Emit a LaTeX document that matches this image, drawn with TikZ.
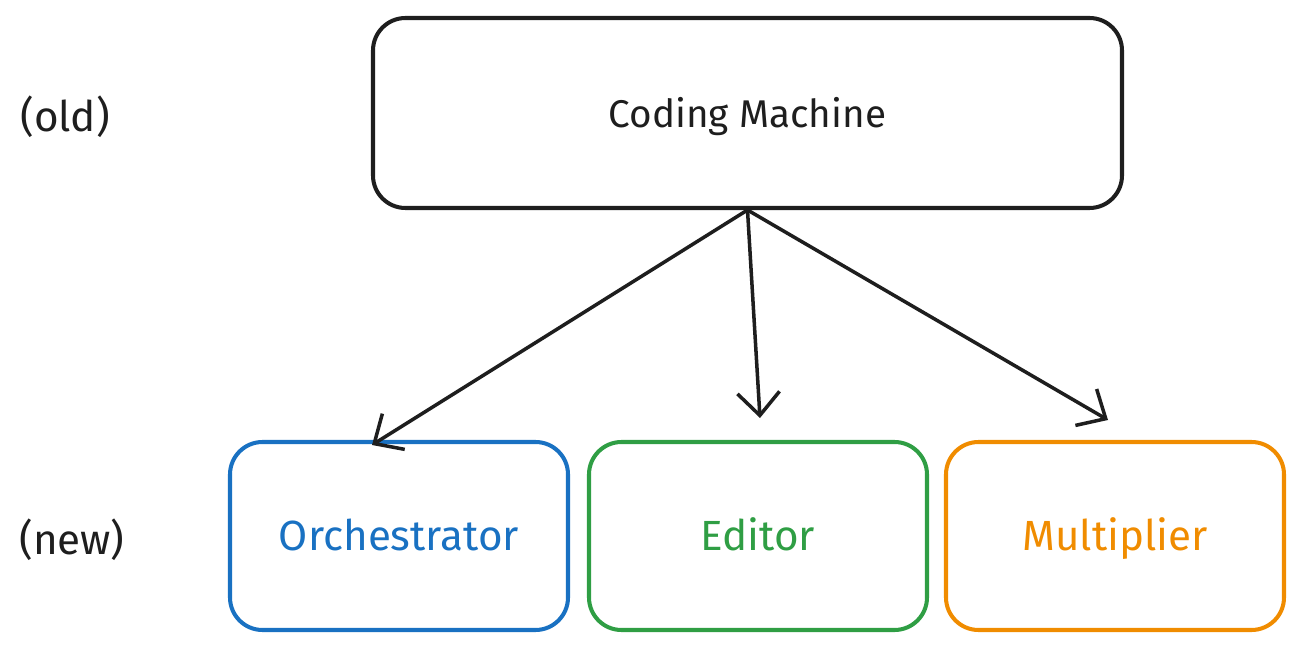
\documentclass[tikz,border=0pt]{standalone}
\usepackage{fontspec}
\setmainfont{Fira Sans}
\usetikzlibrary{arrows.meta}
\definecolor{ink}{HTML}{1E1E1E}
\definecolor{orchblue}{HTML}{1971C2}
\definecolor{editgreen}{HTML}{2F9E44}
\definecolor{multorange}{HTML}{F08C00}
\tikzset{
    box/.style={draw, line width=2.3pt, rounded corners=0.65cm, minimum height=3.76cm, minimum width=6.76cm, text height=17pt, text depth=0.5pt, font=\fontsize{24}{28}\selectfont},
    side/.style={font=\fontsize{24}{28}\selectfont, text=ink},
    link/.style={ink, line width=2pt, -{Straight Barb[length=13pt, width=24pt, line width=2pt]}}
}
\begin{document}
\begin{tikzpicture}[scale=1.0]
    \useasboundingbox (0,0) rectangle (26.08,12.98);
    % Old part
    \node[box, draw=ink, text=ink, minimum width=14.98cm, minimum height=3.8cm, font=\fontsize{22}{26}\selectfont] (coding) at (14.95,10.72) {Coding Machine};
    \node[side] (old) at (1.3,10.64) {(old)};

    % New parts
    \node[box, draw=orchblue, text=orchblue] (orch) at (7.98,2.26) {Orchestrator};
    \node[box, draw=editgreen, text=editgreen] (edit) at (15.16,2.26) {Editor};
    \node[box, draw=multorange, text=multorange] (mult) at (22.3,2.26) {Multiplier};
    \node[side] (new) at (1.44,2.18) {(new)};

    % Arrows
    \coordinate (orchtip) at (7.44,4.08);
    \coordinate (edittip) at (15.2,4.62);
    \coordinate (multtip) at (22.16,4.58);
    \draw[link] (coding.south) -- (orchtip);
    \draw[link] (coding.south) -- (edittip);
    \draw[link] (coding.south) -- (multtip);
\end{tikzpicture}
\end{document}
